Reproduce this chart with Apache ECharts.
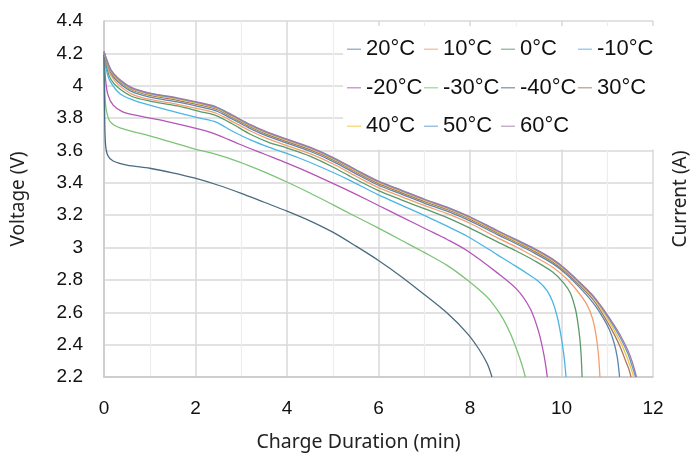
<!DOCTYPE html>
<html>
<head>
<meta charset="utf-8">
<script src="https://cdn.jsdelivr.net/npm/echarts@6/dist/echarts.min.js"></script>
<style>html,body{margin:0;padding:0;background:#fff}#c{width:698px;height:460px}</style>
</head>
<body>
<div id="c"></div>
<script>
const seriesNames = ['20°C','10°C','0°C','-10°C','-20°C','-30°C','-40°C','30°C','40°C','50°C','60°C'];
const colors = ['#5A86AD','#F59E6E','#5A9A68','#4CB5E6','#B455B8','#7CC576','#4B6B80','#A97560','#F2C440','#5F9BC9','#A17BA6'];
const xTicks = [0,2,4,6,8,10,12];
const yTicks = [2.2,2.4,2.6,2.8,3,3.2,3.4,3.6,3.8,4,4.2,4.4];

const d20 = [[0,4.21],[0.05,4.15],[0.15,4.075],[0.3,4.025],[0.6,3.965],[1,3.93],[1.6,3.90],[2.1,3.87],[2.45,3.845],[2.8,3.795],[3.2,3.735],[3.6,3.685],[4,3.645],[4.5,3.595],[5,3.533],[5.5,3.457],[6,3.385],[6.5,3.33],[7,3.275],[7.5,3.225],[8,3.165],[8.6,3.08],[9,3.025],[9.4,2.967],[9.8,2.902],[10.1,2.837],[10.4,2.752],[10.7,2.655],[10.9,2.57],[11.05,2.49],[11.15,2.41],[11.22,2.32],[11.27,2.2]];
const d10 = [[0,4.21],[0.05,4.14],[0.15,4.065],[0.3,4.01],[0.6,3.95],[1,3.915],[1.6,3.885],[2.1,3.855],[2.45,3.83],[2.8,3.78],[3.2,3.72],[3.6,3.67],[4,3.63],[4.5,3.58],[5,3.518],[5.5,3.442],[6,3.37],[6.5,3.315],[7,3.26],[7.5,3.21],[8,3.15],[8.6,3.06],[9,3.005],[9.4,2.945],[9.8,2.88],[10.1,2.81],[10.35,2.73],[10.55,2.65],[10.68,2.56],[10.76,2.45],[10.81,2.33],[10.84,2.2]];
const d0 = [[0,4.21],[0.05,4.12],[0.15,4.04],[0.3,3.99],[0.6,3.935],[1,3.905],[1.6,3.875],[2.1,3.84],[2.45,3.815],[2.8,3.765],[3.2,3.70],[3.6,3.65],[4,3.615],[4.5,3.565],[5,3.498],[5.5,3.422],[6,3.352],[6.5,3.295],[7,3.24],[7.5,3.185],[8,3.12],[8.6,3.035],[9,2.98],[9.4,2.92],[9.8,2.85],[10.05,2.78],[10.2,2.715],[10.3,2.625],[10.35,2.55],[10.4,2.44],[10.43,2.33],[10.45,2.2]];
const dm10 = [[0,4.2],[0.05,4.1],[0.13,4.03],[0.35,3.95],[0.65,3.91],[1,3.88],[1.65,3.83],[2.1,3.80],[2.45,3.775],[2.8,3.72],[3.2,3.665],[3.6,3.62],[4.25,3.555],[4.8,3.49],[5.34,3.42],[6,3.325],[6.5,3.262],[7.07,3.19],[7.5,3.132],[7.94,3.07],[8.6,2.955],[9,2.885],[9.3,2.83],[9.5,2.79],[9.68,2.735],[9.8,2.67],[9.9,2.58],[9.98,2.47],[10.05,2.34],[10.1,2.2]];
const dm20 = [[0,4.2],[0.03,4.05],[0.08,3.95],[0.2,3.88],[0.4,3.84],[0.65,3.82],[1.36,3.78],[2.1,3.73],[2.45,3.70],[2.95,3.64],[3.5,3.578],[4,3.522],[4.5,3.462],[5,3.397],[5.5,3.33],[6,3.26],[6.5,3.19],[7.07,3.11],[7.5,3.05],[7.94,2.98],[8.59,2.845],[9.03,2.74],[9.32,2.62],[9.5,2.48],[9.62,2.33],[9.69,2.2]];
const dm30 = [[0,4.2],[0.02,3.95],[0.05,3.85],[0.13,3.78],[0.35,3.74],[1,3.69],[1.97,3.61],[2.4,3.58],[2.95,3.53],[3.5,3.468],[4,3.405],[4.5,3.337],[5,3.265],[5.5,3.192],[6,3.12],[6.5,3.045],[7,2.97],[7.5,2.89],[7.94,2.80],[8.3,2.715],[8.45,2.67],[8.7,2.57],[8.88,2.47],[9.02,2.37],[9.13,2.28],[9.21,2.2]];
const dm40 = [[0,4.19],[0.01,3.9],[0.03,3.65],[0.08,3.57],[0.2,3.535],[0.5,3.51],[1,3.49],[1.5,3.462],[1.97,3.43],[2.5,3.385],[3,3.335],[3.5,3.28],[4,3.225],[4.5,3.165],[5,3.095],[5.5,3.01],[6,2.92],[6.5,2.82],[7,2.71],[7.5,2.595],[7.94,2.47],[8.2,2.37],[8.38,2.28],[8.48,2.2]];
const d30 = [[0,4.21],[0.05,4.155],[0.15,4.085],[0.3,4.035],[0.6,3.975],[1,3.94],[1.6,3.91],[2.1,3.88],[2.45,3.855],[2.8,3.805],[3.2,3.745],[3.6,3.695],[4,3.655],[4.5,3.605],[5,3.543],[5.5,3.467],[6,3.395],[6.5,3.34],[7,3.285],[7.5,3.235],[8,3.175],[8.6,3.09],[9,3.035],[9.4,2.977],[9.8,2.912],[10.1,2.847],[10.4,2.765],[10.7,2.675],[10.95,2.565],[11.15,2.465],[11.3,2.375],[11.4,2.30],[11.47,2.25],[11.52,2.2]];
const d40 = [[0,4.21],[0.05,4.16],[0.15,4.09],[0.3,4.04],[0.6,3.98],[1,3.947],[1.6,3.917],[2.1,3.887],[2.45,3.861],[2.8,3.811],[3.2,3.752],[3.6,3.702],[4,3.662],[4.5,3.612],[5,3.549],[5.5,3.474],[6,3.402],[6.5,3.347],[7,3.292],[7.5,3.242],[8,3.182],[8.6,3.097],[9,3.04],[9.4,2.985],[9.8,2.92],[10.1,2.855],[10.4,2.775],[10.7,2.687],[10.95,2.585],[11.15,2.49],[11.3,2.41],[11.42,2.33],[11.51,2.26],[11.58,2.2]];
const d50 = [[0,4.21],[0.05,4.165],[0.15,4.095],[0.3,4.045],[0.6,3.985],[1,3.952],[1.6,3.922],[2.1,3.892],[2.45,3.866],[2.8,3.816],[3.2,3.757],[3.6,3.707],[4,3.667],[4.5,3.617],[5,3.554],[5.5,3.479],[6,3.407],[6.5,3.352],[7,3.297],[7.5,3.247],[8,3.187],[8.6,3.102],[9,3.047],[9.4,2.991],[9.8,2.926],[10.1,2.861],[10.4,2.781],[10.7,2.695],[10.95,2.598],[11.15,2.51],[11.3,2.435],[11.45,2.345],[11.54,2.27],[11.62,2.2]];
const d60 = [[0,4.21],[0.05,4.17],[0.15,4.10],[0.3,4.05],[0.6,3.99],[1,3.955],[1.6,3.925],[2.1,3.895],[2.45,3.87],[2.8,3.82],[3.2,3.76],[3.6,3.71],[4,3.67],[4.5,3.62],[5,3.558],[5.5,3.482],[6,3.41],[6.5,3.355],[7,3.30],[7.5,3.25],[8,3.19],[8.6,3.105],[9,3.05],[9.4,2.995],[9.8,2.93],[10.1,2.865],[10.4,2.785],[10.7,2.70],[10.95,2.605],[11.15,2.52],[11.3,2.45],[11.45,2.365],[11.55,2.29],[11.64,2.2]];

const allData = [d20,d10,d0,dm10,dm20,dm30,dm40,d30,d40,d50,d60];

const chart = echarts.init(document.getElementById('c'), null, {renderer:'canvas'});
const FONT = "'Liberation Sans', Arial, sans-serif";
const TFONT = "'Noto Sans', sans-serif";
chart.setOption({
  animation: false,
  color: colors,
  textStyle: {fontFamily: FONT},
  grid: {left: 104, right: 41, top: 21, bottom: 83, containLabel: false},
  legend: {
    data: seriesNames,
    left: 343, top: 26, width: 310,
    padding: 4, itemGap: 0,
    backgroundColor: '#ffffff',
    icon: 'rect', itemWidth: 14, itemHeight: 1.5,
    itemStyle: {opacity: 0.6},
    textStyle: {fontSize: 22, color: '#111', width: 58, lineHeight: 38.5, fontFamily: FONT}
  },
  xAxis: {
    type: 'value', min: xTicks[0], max: xTicks[xTicks.length-1], interval: 2,
    name: 'Charge Duration (min)', nameLocation: 'middle', nameGap: 55,
    nameTextStyle: {fontSize: 19.5, color: '#222', fontFamily: TFONT, padding: [0, 40, 0, 0]},
    axisLine: {show: true, lineStyle: {color: '#c8c8c8', width: 1.5}},
    axisTick: {show: false},
    axisLabel: {fontSize: 19, color: '#111', margin: 22, fontFamily: FONT},
    splitLine: {show: true, lineStyle: {color: '#d9d9d9', width: 1.5}},
    minorTick: {show: false, splitNumber: 2},
    minorSplitLine: {show: true, lineStyle: {color: '#ededed', width: 1.2}}
  },
  yAxis: [{
    type: 'value', min: yTicks[0], max: yTicks[yTicks.length-1], interval: 0.2,
    name: 'Voltage (V)', nameLocation: 'middle', nameGap: 76, nameRotate: 90,
    nameTextStyle: {fontSize: 19, color: '#222', fontFamily: TFONT},
    axisLine: {show: true, lineStyle: {color: '#c8c8c8', width: 1.5}},
    axisTick: {show: false},
    axisLabel: {fontSize: 19, color: '#111', margin: 21, fontFamily: FONT},
    splitLine: {show: true, lineStyle: {color: '#d9d9d9', width: 1.5}}
  },{
    type: 'value', min: 0, max: 1, position: 'right',
    name: 'Current (A)', nameLocation: 'middle', nameGap: 18, nameRotate: 90,
    nameTextStyle: {fontSize: 19, color: '#222', fontFamily: TFONT},
    axisLine: {show: false}, axisTick: {show: false}, axisLabel: {show: false}, splitLine: {show: false}
  }],
  series: seriesNames.map((n, i) => ({
    name: n, type: 'line', data: allData[i], showSymbol: false, symbol: 'none',
    smooth: 0.3,
    lineStyle: {width: 1.3, color: colors[i]}, itemStyle: {color: colors[i]}
  }))
});
</script>
</body>
</html>
